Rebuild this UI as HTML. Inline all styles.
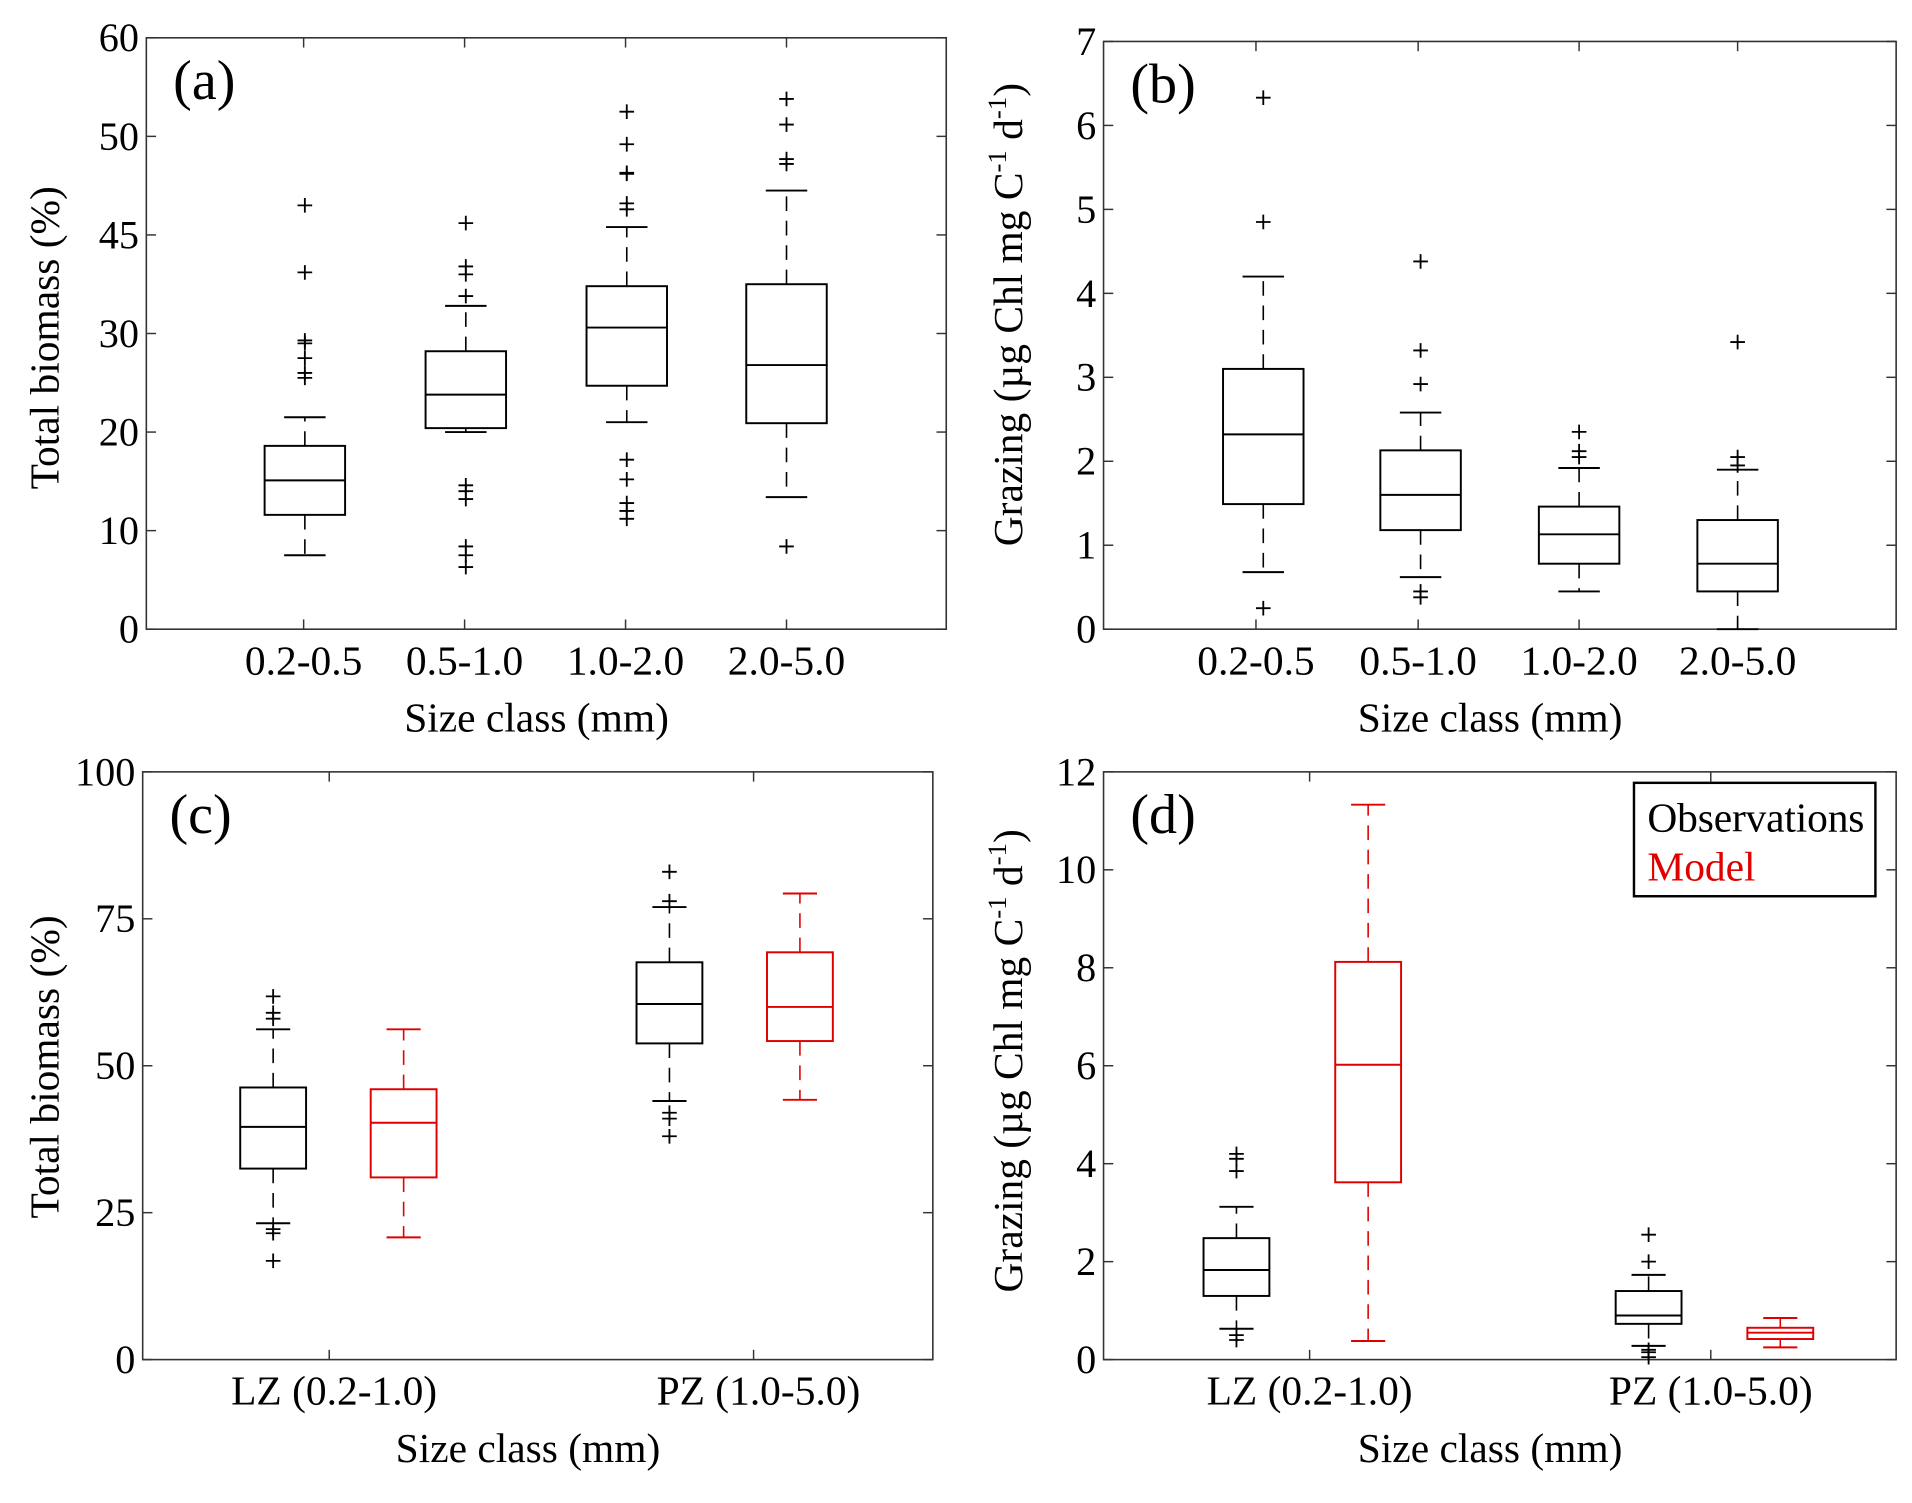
<!DOCTYPE html>
<html><head><meta charset="utf-8">
<style>
html,body{margin:0;padding:0;background:#fff;}
svg{display:block;}
text{font-family:"Liberation Serif",serif;fill:#000;}
</style></head>
<body>
<svg id="fig" width="1912" height="1503" viewBox="0 0 1568 1232.6" xmlns="http://www.w3.org/2000/svg"></svg>
<script>
// ---- data ----
const catsAB = ["0.2-0.5","0.5-1.0","1.0-2.0","2.0-5.0"];
const catsCD = ["LZ (0.2-1.0)","PZ (1.0-5.0)"];
const ticksA = ["0","10","20","30","45","50","60"];
const ticksB = ["0","1","2","3","4","5","6","7"];
const ticksC = ["0","25","50","75","100"];
const ticksD = ["0","2","4","6","8","10","12"];
// [whiskerLow, q1, median, q3, whiskerHigh]
const statsA = [[7.5,11.6,15.1,18.6,21.5],[20,20.4,23.8,28.2,32.8],[21,24.7,30.6,34.8,40.8],[13.4,20.9,26.8,35,44.5]];
const outA = [[25.5,26,27.5,29,29.3,36.2,43],[41.2,36.8,36.0,33.8,14.6,14.0,13.2,8.4,7.5,6.3],[52.5,49.2,46.3,46.2,43.2,42.6,17.2,15.2,12.8,12,11.2],[53.8,51.2,47.7,47.2,8.4]];
const statsB = [[0.68,1.49,2.32,3.1,4.2],[0.62,1.18,1.6,2.13,2.58],[0.45,0.78,1.13,1.46,1.92],[0,0.45,0.78,1.3,1.9]];
const outB = [[6.33,4.85,0.25],[4.38,3.32,2.92,0.45,0.38],[2.35,2.12,2.05],[3.42,2.05,1.95]];
const statsCobs = [[23.2,32.5,39.6,46.3,56.2],[44,53.8,60.5,67.6,77]];
const outCobs = [[61.8,59,58,22.2,21.5,16.8],[83,78,42,41,38]];
const statsCmod = [[20.8,31,40.3,46,56.2],[44.2,54.2,60,69.3,79.3]];
const statsDobs = [[0.63,1.3,1.83,2.48,3.12],[0.28,0.73,0.9,1.4,1.73]];
const outDobs = [[4.2,4.1,3.85,0.5,0.4],[2.55,2.0,0.2,0.15,0.05]];
const statsDmod = [[0.38,3.62,6.02,8.12,11.33],[0.25,0.42,0.55,0.65,0.85]];

const NS = "http://www.w3.org/2000/svg";
const svg = document.getElementById('fig');
function el(tag, attrs, parent){const e=document.createElementNS(NS,tag);for(const k in attrs)e.setAttribute(k,attrs[k]);(parent||svg).appendChild(e);return e;}

function panel(p){
  const g = el('g',{});
  
  
  const yScale = v => p.y1 - (v - p.vmin)/(p.vmax - p.vmin)*(p.y1 - p.y0);
  const frame = el('rect',{x:p.x0,y:p.y0,width:p.x1-p.x0,height:p.y1-p.y0,fill:'none',stroke:'#333','stroke-width':1.3},g);
  
  
  const n = p.ticks.length;
  p.ticks.forEach((t,i)=>{
    const y = p.y1 - i*(p.y1-p.y0)/(n-1);
    el('line',{x1:p.x0,x2:p.x0+8,y1:y,y2:y,stroke:'#333','stroke-width':1.2},g);
    el('line',{x1:p.x1,x2:p.x1-8,y1:y,y2:y,stroke:'#333','stroke-width':1.2},g);
    const tx = el('text',{x:p.x0-6,y:y+11,'text-anchor':'end','font-size':33},g);
    tx.textContent = t;
    
    
  });
  p.cats.forEach((c,i)=>{
    const x = p.tickX[i];
    el('line',{x1:x,x2:x,y1:p.y1,y2:p.y1-8,stroke:'#333','stroke-width':1.2},g);
    el('line',{x1:x,x2:x,y1:p.y0,y2:p.y0+8,stroke:'#333','stroke-width':1.2},g);
    const tx = el('text',{x:x+(p.labelDx||0),y:p.y1+37,'text-anchor':'middle','font-size':34},g);
    tx.textContent = c;
    
    
  });
  const xt = el('text',{x:(p.x0+p.x1)/2-8,y:p.y1+84,'text-anchor':'middle','font-size':34},g);
  xt.textContent = 'Size class (mm)';
  
  
  const lab = el('text',{x:p.x0+22,y:p.y0+50,'font-size':46},g);
  lab.textContent = p.label;
  
  
  const yt = el('text',{transform:`translate(${p.yTitleX},${p.yTitleY}) rotate(-90)`,'text-anchor':'middle','font-size':34},g);
  
  
  if(p.grazing){
    yt.innerHTML = 'Grazing (µg Chl mg C<tspan dy="-13" font-size="22">-1</tspan><tspan dy="13"> d</tspan><tspan dy="-13" font-size="22">-1</tspan><tspan dy="13">)</tspan>';
  } else yt.textContent = 'Total biomass (%)';
  p.series.forEach(s=>{
    s.stats.forEach((st,i)=>{
      const cx = s.xs[i], w = p.boxW, cw = p.capW;
      const bg = el('g',{},g);
      
      
      const col = s.color;
      const [lo,q1,md,q3,hi] = st.map(yScale);
      el('line',{x1:cx,x2:cx,y1:q3,y2:hi,stroke:col,'stroke-width':1.3,'stroke-dasharray':'12,8'},bg);
      el('line',{x1:cx,x2:cx,y1:q1,y2:lo,stroke:col,'stroke-width':1.3,'stroke-dasharray':'12,8'},bg);
      el('line',{x1:cx-cw/2,x2:cx+cw/2,y1:hi,y2:hi,stroke:col,'stroke-width':1.6},bg);
      el('line',{x1:cx-cw/2,x2:cx+cw/2,y1:lo,y2:lo,stroke:col,'stroke-width':1.6},bg);
      el('rect',{x:cx-w/2,y:q3,width:w,height:q1-q3,fill:'none',stroke:col,'stroke-width':1.6},bg);
      el('line',{x1:cx-w/2,x2:cx+w/2,y1:md,y2:md,stroke:col,'stroke-width':1.6},bg);
      (s.out?s.out[i]:[]).forEach(o=>{
        const y = yScale(o);
        const m = el('path',{d:`M${cx-6},${y}H${cx+6}M${cx},${y-6}V${y+6}`,stroke:col,'stroke-width':1.5},bg);
        
        
      });
    });
  });
}

panel({name:'panel-a',label:'(a)',x0:120,x1:776,y0:31,y1:516,vmin:0,vmax:60,ticks:ticksA,cats:catsAB,tickX:[249,381,513,645],
  yTitleX:48,yTitleY:277,boxW:66,capW:34,
  series:[{key:'a',color:'#000',xs:[250,382,514,645],stats:statsA,out:outA}]});
panel({name:'panel-b',label:'(b)',x0:905,x1:1555,y0:34,y1:516,vmin:0,vmax:7,ticks:ticksB,cats:catsAB,tickX:[1030,1163,1295,1425],
  yTitleX:838,yTitleY:258,boxW:66,capW:34,grazing:true,
  series:[{key:'b',color:'#000',xs:[1036,1165,1295,1425],stats:statsB,out:outB}]});
panel({name:'panel-c',label:'(c)',x0:117,x1:765,y0:633,y1:1115,vmin:0,vmax:100,ticks:ticksC,cats:catsCD,tickX:[270,618],labelDx:4,
  yTitleX:48,yTitleY:875,boxW:54,capW:28,
  series:[{key:'c-obs',color:'#000',xs:[224,549],stats:statsCobs,out:outCobs},{key:'c-model',color:'#e00000',xs:[331,656],stats:statsCmod}]});
panel({name:'panel-d',label:'(d)',x0:905,x1:1555,y0:633,y1:1115,vmin:0,vmax:12,ticks:ticksD,cats:catsCD,tickX:[1074,1403],
  yTitleX:838,yTitleY:870,boxW:54,capW:28,grazing:true,
  series:[{key:'d-obs',color:'#000',xs:[1014,1352],stats:statsDobs,out:outDobs},{key:'d-model',color:'#e00000',xs:[1122,1460],stats:statsDmod}]});

const lg = el('g',{});


el('rect',{x:1340,y:642,width:198,height:93,fill:'#fff',stroke:'#000','stroke-width':2},lg);
const l1 = el('text',{x:1351,y:682,'font-size':34},lg);
l1.textContent='Observations';
l1.setAttribute('textLength','178');


const l2 = el('text',{x:1351,y:722,'font-size':34},lg);
l2.textContent='Model';
l2.style.fill='#e00000';


</script>
</body></html>
